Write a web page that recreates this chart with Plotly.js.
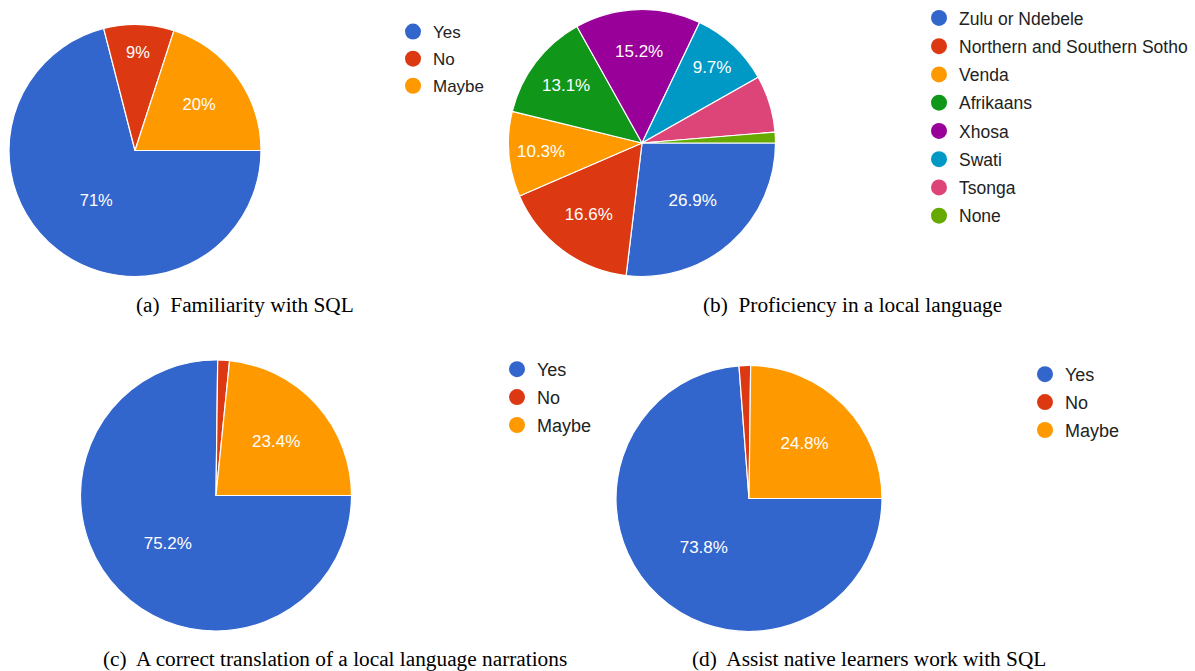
<!DOCTYPE html>
<html>
<head>
<meta charset="utf-8">
<script src="https://cdn.plot.ly/plotly-3.0.1.min.js"></script>
<style>html,body{margin:0;padding:0;background:#fff;}#chart{width:1195px;height:671px;}</style>
</head>
<body>
<div id="chart"></div>
<script>
// ---- data ----
const yesNoLabels = ['Yes', 'No', 'Maybe'];
const sqlFamiliarity = [71, 9, 20];
const languageLabels = ['Zulu or Ndebele', 'Northern and Southern Sotho', 'Venda', 'Afrikaans', 'Xhosa', 'Swati', 'Tsonga', 'None'];
const languageProficiency = [26.9, 16.6, 10.3, 13.1, 15.2, 9.7, 6.9, 1.3];
const translationCorrect = [75.2, 1.4, 23.4];
const assistLearners = [73.8, 1.4, 24.8];
const captions = [
  '(a)\u00a0 Familiarity with SQL',
  '(b)\u00a0 Proficiency in a local language',
  '(c)\u00a0 A correct translation of a local language narrations',
  '(d)\u00a0 Assist native learners work with SQL'
];
const palette = ['#3366cc', '#dc3912', '#ff9900', '#109618', '#990099', '#0099c6', '#dd4477', '#66aa00'];

// ---- layout helpers ----
const W = 1195, H = 671;
function dom(cx, cy, r) {
  return { x: [(cx - r) / W, (cx + r) / W], y: [1 - (cy + r) / H, 1 - (cy - r) / H] };
}
const labelFont = { family: 'Liberation Sans, Arial, sans-serif', size: 17, color: '#ffffff' };

function pie(labels, values, domain, tmpl, fontSize) {
  return {
    type: 'pie', labels: labels, values: values, sort: false,
    direction: 'clockwise', rotation: 90, domain: domain,
    marker: { colors: palette.slice(0, labels.length), line: { color: '#ffffff', width: 1.2 } },
    texttemplate: tmpl, textposition: 'inside', insidetextorientation: 'horizontal',
    textfont: Object.assign({}, labelFont, { size: fontSize }),
    showlegend: false, hoverinfo: 'label+percent'
  };
}
function pct(values, digits, hideBelow) {
  return values.map(v => v < hideBelow ? '' : '%{percent:.' + digits + '%}');
}

const traces = [
  pie(yesNoLabels, sqlFamiliarity, dom(135, 150.5, 126), pct(sqlFamiliarity, 0, 5), 16.5),
  pie(languageLabels, languageProficiency, dom(642, 143, 133.5), pct(languageProficiency, 1, 8), 17),
  pie(yesNoLabels, translationCorrect, dom(216, 495.5, 135.5), pct(translationCorrect, 1, 5), 17),
  pie(yesNoLabels, assistLearners, dom(749, 498.5, 133), pct(assistLearners, 1, 5), 17)
];

// legend entries (circle markers) for each panel
function legendEntries(labels, legendId, prefix) {
  labels.forEach((lab, i) => {
    traces.push({
      type: 'scatter', mode: 'markers', x: [null], y: [null], name: lab,
      legend: legendId, legendgroup: prefix + i,
      marker: { symbol: 'circle', size: 16, color: palette[i] },
      hoverinfo: 'skip'
    });
  });
}
legendEntries(yesNoLabels, 'legend', 'a');
legendEntries(languageLabels, 'legend2', 'b');
legendEntries(yesNoLabels, 'legend3', 'c');
legendEntries(yesNoLabels, 'legend4', 'd');

function leg(xpx, ypx, size, gap) {
  return {
    x: xpx / W, y: 1 - ypx / H, xanchor: 'left', yanchor: 'top',
    bgcolor: 'rgba(0,0,0,0)', borderwidth: 0,
    traceorder: 'grouped', tracegroupgap: gap,
    font: { family: 'Liberation Sans, Arial, sans-serif', size: size, color: '#222222' },
    itemclick: false, itemdoubleclick: false
  };
}

const captionFont = { family: 'Liberation Serif, Times New Roman, serif', size: 21.3, color: '#000000' };
const capPos = [[245, 305], [852, 305], [334.5, 659], [869.5, 659]];
const annotations = captions.map((t, i) => ({
  text: t, x: capPos[i][0] / W, y: 1 - capPos[i][1] / H, xref: 'paper', yref: 'paper',
  xanchor: 'center', yanchor: 'middle', showarrow: false, font: captionFont
}));

const layout = {
  width: W, height: H,
  margin: { l: 0, r: 0, t: 0, b: 0 },
  paper_bgcolor: '#ffffff', plot_bgcolor: 'rgba(0,0,0,0)',
  xaxis: { visible: false }, yaxis: { visible: false },
  showlegend: true,
  legend: leg(393, 14, 17, 2),
  legend2: leg(919, 0, 17.5, 2.5),
  legend3: leg(497, 351, 18, 1.5),
  legend4: leg(1025, 356, 18, 1.5),
  annotations: annotations
};

Plotly.newPlot('chart', traces, layout, { staticPlot: true, displayModeBar: false });
</script>
</body>
</html>
